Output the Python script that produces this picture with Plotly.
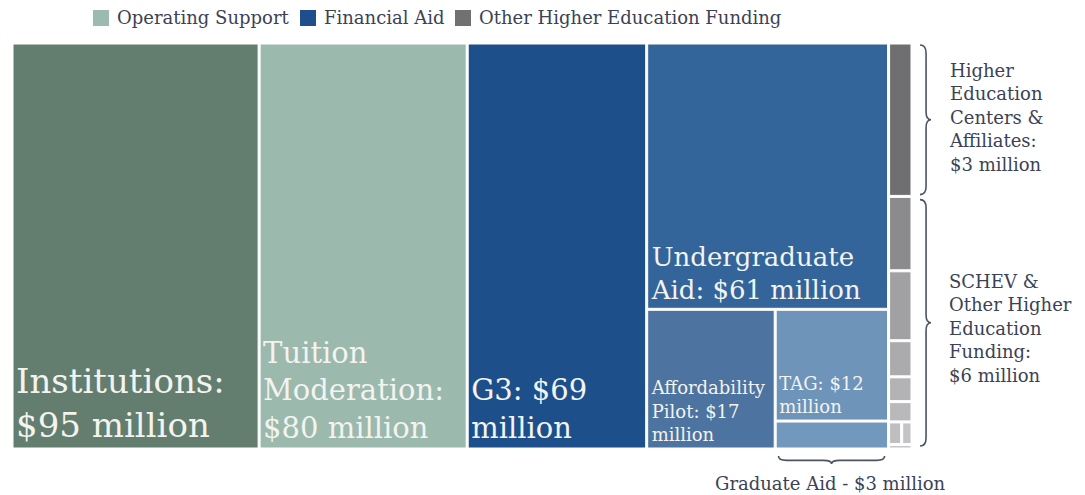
import plotly.graph_objects as go

# ---------------- data ----------------
operating_labels = ["Institutions", "Tuition Moderation"]
operating_values = [95, 80]

g3_labels = ["G3"]
g3_values = [69]

aid_labels = ["Undergraduate Aid", "Affordability Pilot", "TAG", "Graduate Aid"]
aid_values = [61, 17, 12, 3]

hec_label = "Higher Education Centers & Affiliates"
hec_value = 3.4

schev_label = "SCHEV & Other Higher Education Funding"
schev_values = [1.65, 1.55, 0.8, 0.55, 0.45, 0.1]
schev_split_values = [0.28, 0.22]     # one SCHEV item split in two, sits before the last one

legend_labels = ["Operating Support", "Financial Aid", "Other Higher Education Funding"]

# display wording (line breaks) for the tile labels
tile_templates = {
    "Institutions": "Institutions:<br>${v} million",
    "Tuition Moderation": "Tuition<br>Moderation:<br>${v} million",
    "G3": "G3: ${v}<br>million",
    "Undergraduate Aid": "Undergraduate<br>Aid: ${v} million",
    "Affordability Pilot": "Affordability<br>Pilot: ${v}<br>million",
    "TAG": "TAG: ${v}<br>million",
}

# ---------------- styles ----------------
W, H = 1085, 495          # browser window
OFF = 8                   # page body margin
FIG_W, FIG_H = W - OFF, H - OFF
SERIF = "DejaVu Serif"
TEXT_DARK = "#3b4254"
TILE_TEXT = "#f3f3ef"
colors_operating = ["#637e6f", "#9bb9ad"]
color_g3 = "#1d4f8a"
colors_aid = ["#33649a", "#4d74a0", "#6f94ba", "#7398bd"]
color_hec = "#6f6f71"
colors_schev = ["#8b8b8d", "#a1a1a3", "#ababad", "#b3b3b5", "#b9b9bb", "#c6c6c8"]
colors_split = ["#bfbfc1", "#c4c4c6"]
legend_colors = ["#9bbab0", "#1f4e8c", "#717173"]
font_sizes = {"Institutions": 34, "Tuition Moderation": 29, "G3": 29,
              "Undergraduate Aid": 26, "Affordability Pilot": 18, "TAG": 18}

# treemap area in window pixels
X0, X1, Y0, Y1 = 13, 911, 44, 448


def px(x):
    return (x - OFF) / FIG_W


def py(y):
    return 1 - (y - OFF) / FIG_H


def fmt(v):
    return f"{v:g}"


ids, parents, values, labels, texts, colors, sizes = [], [], [], [], [], [], []


def add(node_id, parent, value, label, color, text="", size=12):
    ids.append(node_id)
    parents.append(parent)
    values.append(value)
    labels.append(label)
    colors.append(color)
    texts.append(text)
    sizes.append(size)


def tile_text(lbl, v):
    t = tile_templates.get(lbl)
    return t.replace("{v}", fmt(v)) if t else ""


add("root", "", 0, "Higher Education", "white")
for lbl, v, c in zip(operating_labels, operating_values, colors_operating):
    add(lbl, "root", v, lbl, c, tile_text(lbl, v), font_sizes[lbl])
for lbl, v in zip(g3_labels, g3_values):
    add(lbl, "root", v, lbl, color_g3, tile_text(lbl, v), font_sizes[lbl])

# financial aid block: undergraduate on top, then affordability | (TAG over graduate)
add("aid", "root", 0, "Financial Aid", "white")
add(aid_labels[0], "aid", aid_values[0], aid_labels[0], colors_aid[0],
    tile_text(aid_labels[0], aid_values[0]), font_sizes[aid_labels[0]])
add("aid_low", "aid", 0, "Other Aid", "white")
add(aid_labels[1], "aid_low", aid_values[1], aid_labels[1], colors_aid[1],
    tile_text(aid_labels[1], aid_values[1]), font_sizes[aid_labels[1]])
add("aid_low_r", "aid_low", 0, "TAG & Graduate Aid", "white")
add(aid_labels[2], "aid_low_r", aid_values[2], aid_labels[2], colors_aid[2],
    tile_text(aid_labels[2], aid_values[2]), font_sizes[aid_labels[2]])
add(aid_labels[3], "aid_low_r", aid_values[3], aid_labels[3], colors_aid[3])

# other higher education funding column
add("other", "root", 0, "Other Higher Education Funding", "white")
add("hec", "other", hec_value, hec_label, color_hec)
split_index = len(schev_values) - 1
for i, (v, c) in enumerate(zip(schev_values, colors_schev)):
    if i == split_index:
        add("schev_split", "other", 0, schev_label, "white")
        for j, (sv, sc) in enumerate(zip(schev_split_values, colors_split)):
            add(f"schev_s{j}", "schev_split", sv, schev_label, sc)
    add(f"schev_{i}", "other", v, schev_label, c)

fig = go.Figure()
fig.add_trace(go.Treemap(
    ids=ids, parents=parents, values=values, labels=labels,
    branchvalues="remainder", sort=False,
    text=texts, texttemplate="%{text}", textposition="bottom left",
    textfont=dict(family=SERIF, size=sizes, color=TILE_TEXT),
    marker=dict(colors=colors, line=dict(width=1, color="white"),
                pad=dict(t=0, l=0, r=0, b=0)),
    tiling=dict(packing="slice-dice", pad=2),
    pathbar=dict(visible=False),
    domain=dict(x=[px(X0), px(X1)], y=[py(Y1), py(Y0)]),
    hovertemplate="%{label}: %{value}<extra></extra>",
))

shapes, annotations = [], []

# ---- legend (top) ----
legend_sq_x = [93, 300, 455]
for x, c, lbl in zip(legend_sq_x, legend_colors, legend_labels):
    shapes.append(dict(type="rect", xref="paper", yref="paper",
                       x0=px(x), x1=px(x + 16), y0=py(26), y1=py(10),
                       fillcolor=c, line=dict(width=0)))
    annotations.append(dict(xref="paper", yref="paper", x=px(x + 22), y=py(18),
                            xanchor="left", yanchor="middle", showarrow=False,
                            text=lbl, font=dict(family=SERIF, size=18, color=TEXT_DARK)))

# ---- braces ----
BRACE = "#4a5366"


def vbrace(xl, yt, yb, w=11, r=8):
    xm, xr, ym = xl + w * 0.55, xl + w, (yt + yb) / 2
    pts = f"M {px(xl)},{py(yt)} Q {px(xm)},{py(yt)} {px(xm)},{py(yt + r)} " \
          f"L {px(xm)},{py(ym - r)} Q {px(xm)},{py(ym)} {px(xr)},{py(ym)} " \
          f"Q {px(xm)},{py(ym)} {px(xm)},{py(ym + r)} L {px(xm)},{py(yb - r)} " \
          f"Q {px(xm)},{py(yb)} {px(xl)},{py(yb)}"
    return dict(type="path", xref="paper", yref="paper", path=pts,
                line=dict(color=BRACE, width=1.6))


def hbrace(xl, xr, yt, h=8, r=8):
    ym, yb, xc = yt + h * 0.55, yt + h, (xl + xr) / 2
    pts = f"M {px(xl)},{py(yt)} Q {px(xl)},{py(ym)} {px(xl + r)},{py(ym)} " \
          f"L {px(xc - r)},{py(ym)} Q {px(xc)},{py(ym)} {px(xc)},{py(yb)} " \
          f"Q {px(xc)},{py(ym)} {px(xc + r)},{py(ym)} L {px(xr - r)},{py(ym)} " \
          f"Q {px(xr)},{py(ym)} {px(xr)},{py(yt)}"
    return dict(type="path", xref="paper", yref="paper", path=pts,
                line=dict(color=BRACE, width=1.6))


other_total = hec_value + sum(schev_values) + sum(schev_split_values)
hec_bottom = Y0 + (Y1 - Y0) * hec_value / other_total
b1 = (Y0 + 1, hec_bottom - 2)
b2 = (hec_bottom + 3, Y1 - 2)
shapes.append(vbrace(920, *b1))
shapes.append(vbrace(920, *b2))

annotations.append(dict(xref="paper", yref="paper", x=px(947), y=py((b1[0] + b1[1]) / 2 - 2),
                        xanchor="left", yanchor="middle", align="left", showarrow=False,
                        text="Higher<br>Education<br>Centers &amp;<br>Affiliates:<br>"
                             f"${round(hec_value):g} million",
                        font=dict(family=SERIF, size=18, color=TEXT_DARK)))
schev_total = sum(schev_values) + sum(schev_split_values)
annotations.append(dict(xref="paper", yref="paper", x=px(947), y=py((b2[0] + b2[1]) / 2 + 6),
                        xanchor="left", yanchor="middle", align="left", showarrow=False,
                        text="SCHEV &amp;<br>Other Higher<br>Education<br>Funding:<br>"
                             f"${round(schev_total):g} million",
                        font=dict(family=SERIF, size=18, color=TEXT_DARK)))

# graduate aid brace below the tiles (x range derived from the values)
grand_total = sum(operating_values) + sum(g3_values) + sum(aid_values) + other_total
scale = (X1 - X0) / grand_total
aid_x0 = X0 + scale * (sum(operating_values) + sum(g3_values))
aid_w = scale * sum(aid_values)
low_sum = sum(aid_values[1:])
grad_x0 = aid_x0 + aid_w * aid_values[1] / low_sum
grad_x1 = aid_x0 + aid_w
shapes.append(hbrace(grad_x0 + 4, grad_x1 - 3, 456))
annotations.append(dict(xref="paper", yref="paper", x=px(830), y=py(483),
                        xanchor="center", yanchor="middle", showarrow=False,
                        text=f"{aid_labels[3]} - ${aid_values[3]:g} million",
                        font=dict(family=SERIF, size=18, color=TEXT_DARK)))

fig.update_layout(
    width=FIG_W, height=FIG_H, margin=dict(l=0, r=0, t=0, b=0),
    paper_bgcolor="white", plot_bgcolor="white",
    shapes=shapes, annotations=annotations, showlegend=False,
)

fig.write_html("out.html")
